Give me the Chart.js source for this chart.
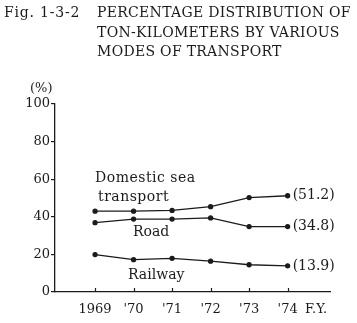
<!DOCTYPE html>
<html>
<head>
<meta charset="utf-8">
<script src="https://cdn.jsdelivr.net/npm/chart.js@4/dist/chart.umd.min.js"></script>
<style>
  html, body { margin: 0; padding: 0; background: #fff; }
  canvas { display: block; }
</style>
</head>
<body>
<canvas id="chart" width="357" height="323"></canvas>
<script>
// fiscal years and the labels printed under them
const years = [1969, 1970, 1971, 1972, 1973, 1974];
const yearLabels = ["1969", "'70", "'71", "'72", "'73", "'74"];

// share of ton-kilometers, %
const seaShare = [43.0, 43.0, 43.4, 45.4, 50.2, 51.2];
const roadShare = [36.9, 38.8, 38.8, 39.4, 34.8, 34.8];
const railShare = [19.9, 17.2, 17.9, 16.4, 14.5, 13.9];

const yTicks = [0, 20, 40, 60, 80, 100];

const INK = "#1b1b1b";
const SERIF = "'DejaVu Serif', 'Liberation Serif', serif";

function series(values){
  return {
    data: years.map((y, i) => ({x: y, y: values[i]})),
    borderColor: INK,
    backgroundColor: INK,
    borderWidth: 1.3,
    pointRadius: 2,
    pointHoverRadius: 2,
    tension: 0,
  };
}

// heading, line names, end values and the short x tick marks
const decorations = {
  id: "decorations",
  afterDraw(chart){
    const {ctx, scales: {x, y}} = chart;
    ctx.save();
    ctx.fillStyle = INK;
    ctx.strokeStyle = INK;
    ctx.textBaseline = "middle";
    ctx.textAlign = "left";

    ctx.font = "14px " + SERIF;
    ctx.letterSpacing = "0.8px";
    ctx.fillText("Fig. 1-3-2", 4, 13);
    ctx.letterSpacing = "0.3px";
    ctx.fillText("PERCENTAGE DISTRIBUTION OF", 97, 13);
    ctx.fillText("TON-KILOMETERS BY VARIOUS", 97, 33);
    ctx.fillText("MODES OF TRANSPORT", 97, 52);
    ctx.letterSpacing = "0px";

    ctx.font = "13px " + SERIF;
    ctx.fillText("(%)", 30, 89);

    ctx.font = "14px " + SERIF;
    ctx.letterSpacing = "0.5px";
    ctx.fillText("Domestic sea", 95, 178);
    ctx.fillText("transport", 98, 197);
    ctx.letterSpacing = "0px";
    ctx.fillText("Road", 133, 232);
    ctx.fillText("Railway", 128, 275);

    const last = years.length - 1;
    const xEnd = x.getPixelForValue(years[last]) + 5;
    [seaShare, roadShare, railShare].forEach(v => {
      ctx.fillText("(" + v[last].toFixed(1) + ")", xEnd, y.getPixelForValue(v[last]));
    });

    ctx.font = "13px " + SERIF;
    ctx.fillText("F.Y.", 305, 310);

    // x tick marks stand up inside the axis
    ctx.lineWidth = 1.2;
    ctx.beginPath();
    years.forEach(yr => {
      const px = Math.round(x.getPixelForValue(yr)) + 0.5;
      ctx.moveTo(px, y.bottom);
      ctx.lineTo(px, y.bottom - 4);
    });
    ctx.stroke();
    ctx.restore();
  }
};

new Chart(document.getElementById("chart"), {
  type: "line",
  data: {
    datasets: [series(seaShare), series(roadShare), series(railShare)]
  },
  options: {
    responsive: false,
    animation: false,
    events: [],
    layout: {padding: {top: 104, right: 27, left: 0, bottom: 0}},
    plugins: {
      legend: {display: false},
      tooltip: {enabled: false},
    },
    scales: {
      x: {
        type: "linear",
        min: 1967.96,
        max: 1975.1,
        afterBuildTicks: s => { s.ticks = years.map(v => ({value: v})); },
        afterFit: s => { s.height = 31; },
        grid: {display: false, drawTicks: false, tickLength: 0},
        border: {display: true, color: INK, width: 1.3},
        ticks: {
          color: INK,
          font: {family: SERIF, size: 13},
          padding: 10,
          maxRotation: 0,
          autoSkip: false,
          callback: v => yearLabels[years.indexOf(v)],
        },
      },
      y: {
        min: 0,
        max: 100,
        afterBuildTicks: s => { s.ticks = yTicks.map(v => ({value: v})); },
        afterFit: s => { s.width = 55; },
        grid: {display: true, drawOnChartArea: false, drawTicks: true, tickLength: 4, color: INK, lineWidth: 1.2},
        border: {display: true, color: INK, width: 1.3},
        ticks: {
          color: INK,
          font: {family: SERIF, size: 13},
          padding: 1,
        },
      },
    },
  },
  plugins: [decorations],
});
</script>
</body>
</html>
